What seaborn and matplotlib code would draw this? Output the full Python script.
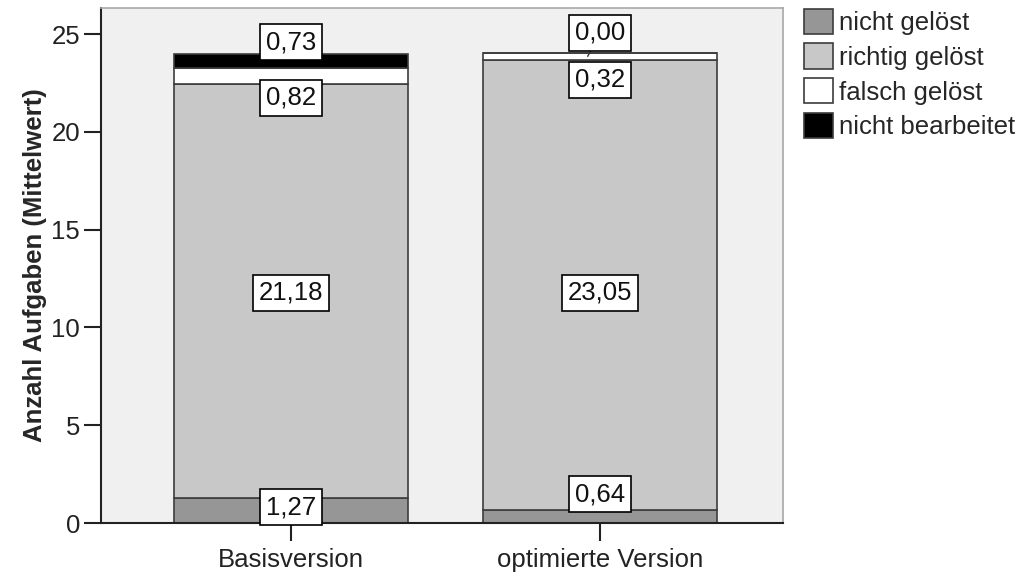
import matplotlib
matplotlib.use("Agg")
import matplotlib.pyplot as plt
from matplotlib.patches import Patch
import numpy as np
import seaborn as sns

# Data: mean number of tasks per outcome, per version
versions = ["Basisversion", "optimierte Version"]
outcomes = ["nicht gelöst", "richtig gelöst", "falsch gelöst", "nicht bearbeitet"]
nicht_geloest = [1.27, 0.64]
richtig_geloest = [21.18, 23.05]
falsch_geloest = [0.82, 0.32]
nicht_bearbeitet = [0.73, 0.00]
y_ticks = [0, 5, 10, 15, 20, 25]
y_label = "Anzahl Aufgaben (Mittelwert)"

series = [nicht_geloest, richtig_geloest, falsch_geloest, nicht_bearbeitet]
colors = ["#969696", "#c8c8c8", "#ffffff", "#000000"]

# vertical shift of each value box from its segment centre (data units)
label_shift = [
    [0.18, 1.16],     # nicht gelöst
    [-0.10, -0.40],   # richtig gelöst
    [-1.13, -1.20],   # falsch gelöst
    [0.95, 1.05],     # nicht bearbeitet
]

sns.set_theme(style="ticks")
plt.rcParams["font.family"] = ["Liberation Sans", "DejaVu Sans"]

fig = plt.figure(figsize=(10.28, 5.81), dpi=100)
ax = fig.add_axes([0.0982, 0.0998, 0.6635, 0.8864])
ax.set_facecolor("#f0f0f0")

bottom = np.zeros(len(versions))
for vals, col in zip(series, colors):
    sns.barplot(x=versions, y=vals, bottom=bottom, color=col, width=0.757,
                edgecolor="#3c3c3c", linewidth=1.2, saturation=1, ax=ax)
    bottom = bottom + np.array(vals)

# value boxes
box = dict(boxstyle="square,pad=0.22", facecolor="white", edgecolor="black", linewidth=1.2)
base = np.zeros(len(versions))
for k, vals in enumerate(series):
    for i, v in enumerate(vals):
        centre = base[i] + v / 2
        ty = centre + label_shift[k][i]
        txt = f"{v:.2f}".replace(".", ",")
        if v == 0:
            ax.annotate(txt, xy=(i - 0.04, base[i] + v - 0.15), xytext=(i, ty),
                        ha="center", va="center", fontsize=18.5, color="#111111",
                        bbox=box, zorder=5,
                        arrowprops=dict(arrowstyle="-", color="#333333", lw=1,
                                        shrinkA=0, shrinkB=0))
        else:
            ax.text(i, ty, txt, ha="center", va="center", fontsize=18.5,
                    color="#111111", bbox=box, zorder=5)
    base = base + np.array(vals)

ax.set_xlim(-0.615, 1.592)
ax.set_ylim(0, 26.33)
ax.set_yticks(y_ticks)
ax.set_yticklabels([str(t) for t in y_ticks])
ax.set_xlabel("")
ax.set_ylabel(y_label, fontsize=18.5, fontweight="bold", labelpad=3)
ax.tick_params(axis="both", labelsize=18.5, colors="#222222", direction="out",
               bottom=True, left=True)
ax.tick_params(axis="y", length=12, width=1.5, pad=3)
ax.tick_params(axis="x", length=13, width=1.5, pad=5)

for side in ["left", "bottom"]:
    ax.spines[side].set_color("#222222")
    ax.spines[side].set_linewidth(1.5)
for side in ["top", "right"]:
    ax.spines[side].set_visible(True)
    ax.spines[side].set_color("#a8a8a8")
    ax.spines[side].set_linewidth(1.2)

handles = [Patch(facecolor=c, edgecolor="#3c3c3c", linewidth=1.2) for c in colors]
fig.legend(handles, outcomes, loc="upper left", bbox_to_anchor=(0.782, 0.985),
           frameon=False, fontsize=18.5, handlelength=1.13, handleheight=1.13,
           handletextpad=0.22, labelspacing=0.33, borderpad=0, borderaxespad=0)

fig.savefig("out.png", dpi=100, facecolor="white")
